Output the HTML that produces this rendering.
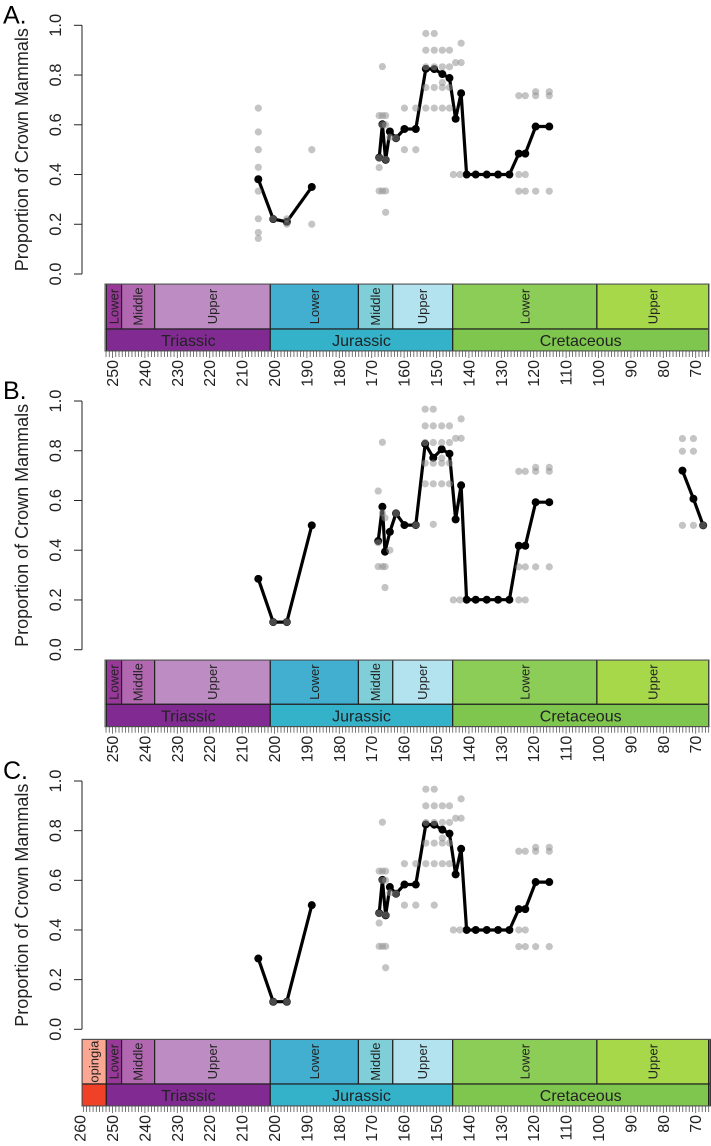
<!DOCTYPE html>
<html><head><meta charset="utf-8"><style>
html,body{margin:0;padding:0;background:#fff;}
svg{display:block;font-family:"Liberation Sans",sans-serif;}
</style></head><body>
<svg id="chart" width="711" height="1146" viewBox="0 0 711 1146" xmlns="http://www.w3.org/2000/svg"></svg>
<script>
// Panel A data
const seriesAAges = [205.0,200.4,196.2,188.5,null,167.7,166.7,165.7,164.4,162.5,159.9,156.4,153.3,150.7,148.2,146.0,144.1,142.4,140.7,137.9,134.5,131.0,127.5,124.6,122.6,119.4,115.2];
const seriesAVals = [0.381,0.221,0.21,0.35,null,0.468,0.602,0.459,0.573,0.546,0.583,0.583,0.825,0.824,0.804,0.788,0.624,0.727,0.40,0.40,0.40,0.40,0.40,0.484,0.484,0.593,0.593];
const greyAAges = [205,205,205,205,205,205,205,205,200.4,196.2,196.2,188.5,188.5,167.7,167.7,167.7,167.7,166.7,166.7,166.7,166.7,165.7,165.7,165.7,165.7,165.7,164.4,162.5,159.9,159.9,156.4,156.4,153.3,153.3,153.3,153.3,153.3,150.7,150.7,150.7,150.7,150.7,148.2,148.2,148.2,148.2,148.2,146.0,146.0,146.0,146.0,144.1,142.4,142.4,144.8,142.8,124.6,124.6,124.6,122.6,122.6,122.6,119.4,119.4,119.4,115.2,115.2,115.2];
const greyAVals = [0.667,0.571,0.5,0.429,0.333,0.222,0.167,0.143,0.222,0.2,0.222,0.5,0.2,0.637,0.428,0.334,0.467,0.834,0.637,0.334,0.6,0.637,0.6,0.334,0.248,0.46,0.55,0.546,0.667,0.5,0.667,0.5,0.967,0.9,0.833,0.75,0.667,0.967,0.9,0.833,0.75,0.667,0.9,0.77,0.833,0.75,0.667,0.9,0.833,0.75,0.667,0.85,0.928,0.85,0.4,0.4,0.717,0.4,0.333,0.717,0.4,0.333,0.733,0.717,0.333,0.733,0.717,0.333];
// Panel B data
const seriesBAges = [205.0,200.4,196.2,188.5,null,168.0,166.7,165.9,164.4,162.5,159.9,156.4,153.5,151.0,148.4,146.0,144.1,142.4,140.7,137.9,134.5,131.0,127.5,124.6,122.6,119.4,115.2,null,74.1,70.7,67.7];
const seriesBVals = [0.285,0.111,0.111,0.50,null,0.437,0.575,0.394,0.474,0.548,0.501,0.501,0.828,0.772,0.806,0.788,0.524,0.661,0.201,0.201,0.201,0.201,0.201,0.418,0.418,0.593,0.593,null,0.72,0.607,0.50];
const greyBAges = [200.4,196.2,168.0,168.0,168.0,166.7,166.7,166.7,165.9,165.9,165.9,164.4,162.5,156.4,153.5,153.5,153.5,153.5,153.5,151.0,151.0,151.0,151.0,151.0,151.0,148.4,148.4,148.4,148.4,148.4,146.0,146.0,146.0,146.0,144.1,142.4,142.4,144.8,142.8,124.6,124.6,124.6,122.6,122.6,122.6,119.4,119.4,119.4,115.2,115.2,115.2,74.1,74.1,74.1,70.7,70.7,70.7,67.7];
const greyBVals = [0.111,0.111,0.638,0.43,0.334,0.834,0.55,0.334,0.53,0.25,0.334,0.40,0.548,0.501,0.967,0.9,0.833,0.75,0.667,0.967,0.9,0.833,0.75,0.667,0.504,0.9,0.77,0.833,0.75,0.667,0.9,0.833,0.75,0.667,0.85,0.928,0.85,0.2,0.2,0.717,0.333,0.2,0.717,0.333,0.2,0.733,0.717,0.333,0.733,0.717,0.333,0.849,0.798,0.5,0.849,0.798,0.5,0.5];
// Panel C data
const seriesCAges = [205.0,200.4,196.2,188.5,null,167.7,166.7,165.7,164.4,162.5,159.9,156.4,153.3,150.7,148.2,146.0,144.1,142.4,140.7,137.9,134.5,131.0,127.5,124.6,122.6,119.4,115.2];
const seriesCVals = [0.285,0.111,0.111,0.50,null,0.468,0.602,0.459,0.573,0.546,0.583,0.583,0.825,0.824,0.804,0.788,0.624,0.727,0.40,0.40,0.40,0.40,0.40,0.484,0.484,0.593,0.593];
const greyCAges = [200.4,196.2,167.7,167.7,167.7,167.7,166.7,166.7,166.7,166.7,165.7,165.7,165.7,165.7,165.7,164.4,162.5,159.9,159.9,156.4,156.4,153.3,153.3,153.3,153.3,153.3,150.7,150.7,150.7,150.7,150.7,150.7,148.2,148.2,148.2,148.2,148.2,146.0,146.0,146.0,146.0,144.1,142.4,142.4,144.8,142.8,124.6,124.6,124.6,122.6,122.6,122.6,119.4,119.4,119.4,115.2,115.2,115.2];
const greyCVals = [0.111,0.111,0.637,0.428,0.334,0.467,0.834,0.637,0.334,0.6,0.637,0.6,0.334,0.248,0.46,0.55,0.546,0.667,0.5,0.667,0.5,0.967,0.9,0.833,0.75,0.667,0.967,0.9,0.833,0.75,0.667,0.5,0.9,0.77,0.833,0.75,0.667,0.9,0.833,0.75,0.667,0.85,0.928,0.85,0.4,0.4,0.717,0.4,0.333,0.717,0.4,0.333,0.733,0.717,0.333,0.733,0.717,0.333];
const yTicks = [0,0.2,0.4,0.6,0.8,1.0];
const yTickLabels = ["0.0","0.2","0.4","0.6","0.8","1.0"];

const NS = "http://www.w3.org/2000/svg";
const svg = document.getElementById('chart');
function el(tag, attrs, parent){ const e=document.createElementNS(NS,tag); for(const k in attrs) e.setAttribute(k,attrs[k]); (parent||svg).appendChild(e); return e; }
function xAge(a){ return 270.3 + (201.3 - a) * 3.24; }

const stages = [
 {n:"Lopingian",a0:259.4,a1:251.9,c:"#FBA794",perm:true},
 {n:"Lower",a0:251.9,a1:247.2,c:"#983999"},
 {n:"Middle",a0:247.2,a1:237,c:"#B168B1"},
 {n:"Upper",a0:237,a1:201.3,c:"#BD8CC3"},
 {n:"Lower",a0:201.3,a1:174.1,c:"#42AED0"},
 {n:"Middle",a0:174.1,a1:163.5,c:"#80CFD8"},
 {n:"Upper",a0:163.5,a1:145,c:"#B3E3EE"},
 {n:"Lower",a0:145,a1:100.5,c:"#8CCD57"},
 {n:"Upper",a0:100.5,a1:66,c:"#A6D84A"},
 {n:"",a0:66,a1:65.5,c:"#FDB46C",pg:true}
];
const pers = [
 {n:"",a0:259.4,a1:251.9,c:"#F04028",perm:true},
 {n:"Triassic",a0:251.9,a1:201.3,c:"#812B92"},
 {n:"Jurassic",a0:201.3,a1:145,c:"#34B2C9"},
 {n:"Cretaceous",a0:145,a1:66,c:"#7FC64E"},
 {n:"",a0:66,a1:65.5,c:"#FD9A52",pg:true}
];

function panel(id, letter, y0, y1, bt, sb, pb, full, sAges, sVals, gAges, gVals){
  const g = el('g',{});
  
  
  const yv = v => y0 - v*(y0-y1);
  const lt = el('text',{x:3,y:y1-2,'font-size':25,fill:'#000'},g); lt.textContent=letter+'.';
  
  
  const ax = el('g',{},g);
  
  
  el('line',{x1:82,x2:82,y1:y1,y2:y0,stroke:'#222','stroke-width':1},ax);
  yTicks.forEach((t,i)=>{
    const y=yv(t);
    el('line',{x1:74,x2:82,y1:y,y2:y,stroke:'#222','stroke-width':1},ax);
    const tx=el('text',{x:0,y:0,'font-size':16.5,fill:'#222','text-anchor':'middle',transform:`translate(61,${y}) rotate(-90)`},ax);
    tx.textContent=yTickLabels[i];
    
    
  });
  const yt=el('text',{x:0,y:0,'font-size':18,fill:'#222','text-anchor':'middle',transform:`translate(28,${(y0+y1)/2}) rotate(-90)`},g);
  yt.textContent='Proportion of Crown Mammals';
  
  
  const ts = el('g',{},g);
  
  
  const left = full ? 82 : 105, right = full ? 711 : 709;
  const cp = el('clipPath',{id:'clip'+id},ts);
  el('rect',{x:left,y:bt,width:right-left,height:pb-bt},cp);
  const cg = el('g',{'clip-path':`url(#clip${id})`},ts);
  stages.forEach(s=>{
    if((s.perm||s.pg) && !full) return;
    const xa=Math.max(left,xAge(s.a0)), xb=xAge(s.a1);
    const r=el('rect',{x:xa,y:bt,width:xb-xa,height:sb-bt,fill:s.c,stroke:'#222','stroke-width':1.2},cg);
    
    
    if(s.n){ const t=el('text',{x:0,y:0,'font-size':13,fill:'#222','text-anchor':'middle',transform:`translate(${(xa+xb)/2+4.5},${(bt+sb)/2}) rotate(-90)`},cg); t.textContent=s.n; }
  });
  pers.forEach(p=>{
    if((p.perm||p.pg) && !full) return;
    const xa=Math.max(left,xAge(p.a0)), xb=xAge(p.a1);
    const r=el('rect',{x:xa,y:sb,width:xb-xa,height:pb-sb,fill:p.c,stroke:'#222','stroke-width':1.2},cg);
    
    
    if(p.n){ const t=el('text',{x:(xa+xb)/2,y:(sb+pb)/2+6,'font-size':16,fill:'#222','text-anchor':'middle'},cg); t.textContent=p.n; }
  });
  el('rect',{x:left,y:bt,width:right-left,height:pb-bt,fill:'none',stroke:'#555','stroke-width':1},ts);
  const xt = el('g',{},g);
  
  
  const aMax = full ? 259 : 252;
  for(let a=aMax; a>=66; a--){
    const x=xAge(a);
    el('line',{x1:x,x2:x,y1:pb,y2:pb+(a%10===0?7:6),stroke:'#555','stroke-width':0.8},xt);
  }
  for(let a=(full?260:250); a>=70; a-=10){
    const t=el('text',{x:0,y:0,'font-size':16,fill:'#222','text-anchor':'end',transform:`translate(${xAge(a)+5.5},${pb+9}) rotate(-90)`},xt);
    t.textContent=String(a);
    
    
  }
  let d='', pen=false;
  sAges.forEach((a,i)=>{
    if(a===null){pen=false;return;}
    d += (pen?'L':'M')+xAge(a).toFixed(1)+','+yv(sVals[i]).toFixed(1)+' ';
    pen=true;
  });
  const ln=el('path',{d:d,fill:'none',stroke:'#000','stroke-width':3.2,'stroke-linejoin':'round'},g);
  
  
  sAges.forEach((a,i)=>{
    if(a===null) return;
    const c=el('circle',{cx:xAge(a),cy:yv(sVals[i]),r:4,fill:'#000'},g);
    
    
  });
  gAges.forEach((a,i)=>{
    const c=el('circle',{cx:xAge(a),cy:yv(gVals[i]),r:3.6,fill:'rgba(142,142,142,0.52)'},g);
    
    
  });
}
panel('a','A',274,25.3,284,329,351,false,seriesAAges,seriesAVals,greyAAges,greyAVals);
panel('b','B',649.7,401,660,704.3,726.7,false,seriesBAges,seriesBVals,greyBAges,greyBVals);
panel('c','C',1029.3,781,1039.3,1084,1106,true,seriesCAges,seriesCVals,greyCAges,greyCVals);
</script>
</body></html>
